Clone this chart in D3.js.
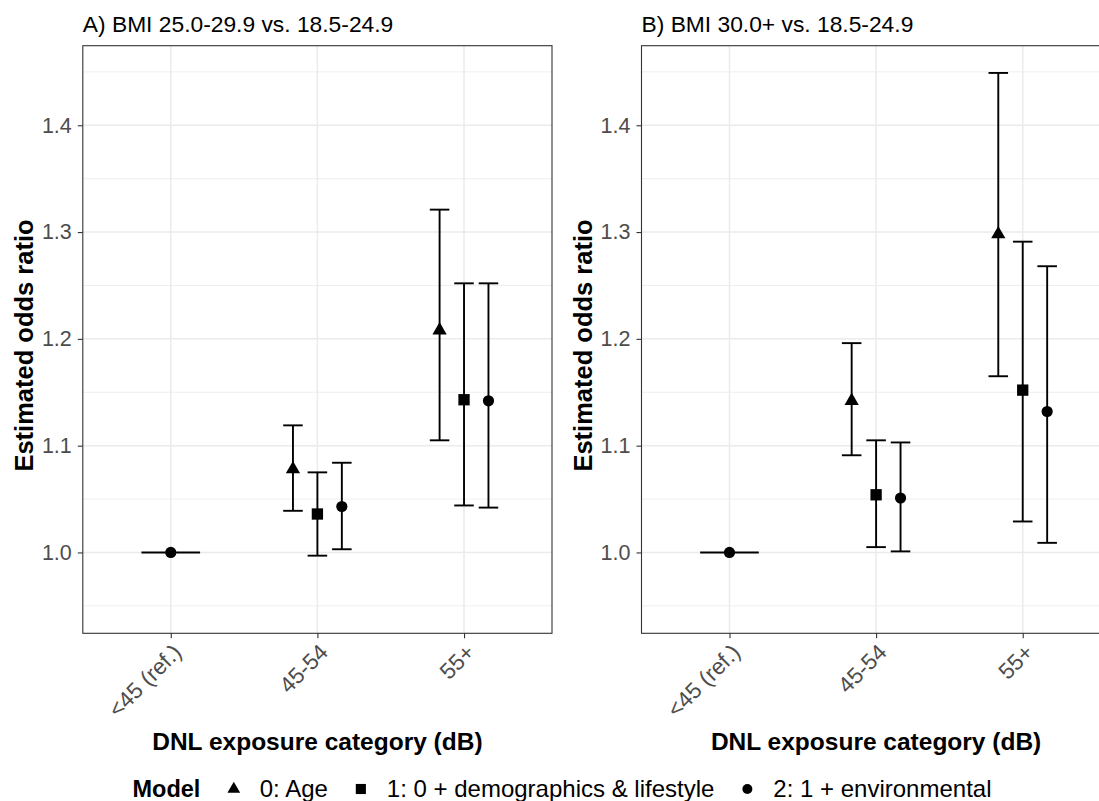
<!DOCTYPE html>
<html>
<head>
<meta charset="utf-8">
<script src="https://cdnjs.cloudflare.com/ajax/libs/d3/7.8.5/d3.min.js"></script>
<style>
  body { margin: 0; background: #fff; }
  svg { display: block; font-family: "Liberation Sans", Arial, sans-serif; }
</style>
</head>
<body>
<div id="container"></div>
<script>
// categories and models
var categories = ["<45 (ref.)", "45-54", "55+"];
var models = ["0: Age", "1: 0 + demographics & lifestyle", "2: 1 + environmental"];
var shapes = ["triangle", "square", "circle"];
var yTicks = [1.0, 1.1, 1.2, 1.3, 1.4];
var yMinor = [0.95, 1.05, 1.15, 1.25, 1.35, 1.45];

// reference category: single estimate
var refOR = 1.0;

// panel A, values for "45-54" and "55+", one array per model
var orA = [[1.078, 1.208], [1.036, 1.143], [1.043, 1.142]];
var lowA = [[1.039, 1.105], [0.997, 1.044], [1.003, 1.042]];
var highA = [[1.119, 1.321], [1.075, 1.252], [1.084, 1.252]];

// panel B
var orB = [[1.142, 1.298], [1.054, 1.152], [1.051, 1.132]];
var lowB = [[1.091, 1.165], [1.005, 1.029], [1.001, 1.009]];
var highB = [[1.196, 1.449], [1.105, 1.291], [1.103, 1.268]];

var panels = [
  {title: "A) BMI 25.0-29.9 vs. 18.5-24.9", left: 82.8, or: orA, low: lowA, high: highA},
  {title: "B) BMI 30.0+ vs. 18.5-24.9", left: 641.5, or: orB, low: lowB, high: highB}
];

var W = 1099, H = 801;
var panelW = 469.2, plotTop = 45.7, plotBottom = 633.3;

var svg = d3.select("#container").append("svg")
    .attr("width", W)
    .attr("height", H);

var y = d3.scaleLinear()
    .domain([0.9243, 1.4745])
    .range([plotBottom, plotTop]);

// marker path, k scales the area
function symbolPath(shape, k) {
  if (shape == "triangle") return d3.symbol(d3.symbolTriangle, 88 * k)();
  if (shape == "square") return d3.symbol(d3.symbolSquare, 128 * k)();
  return d3.symbol(d3.symbolCircle, 98 * k)();
}

panels.forEach(function(p) {
  var x = d3.scalePoint()
      .domain(categories)
      .range([p.left, p.left + panelW])
      .padding(0.6);
  var step = x.step();

  var g = svg.append("g");

  // grid
  g.selectAll(".minor").data(yMinor).join("line")
      .attr("x1", p.left).attr("x2", p.left + panelW)
      .attr("y1", d => y(d)).attr("y2", d => y(d))
      .attr("stroke", "#EBEBEB").attr("stroke-width", 0.8);
  g.selectAll(".major").data(yTicks).join("line")
      .attr("x1", p.left).attr("x2", p.left + panelW)
      .attr("y1", d => y(d)).attr("y2", d => y(d))
      .attr("stroke", "#EBEBEB").attr("stroke-width", 1.5);
  g.selectAll(".vgrid").data(categories).join("line")
      .attr("x1", d => x(d)).attr("x2", d => x(d))
      .attr("y1", plotTop).attr("y2", plotBottom)
      .attr("stroke", "#EBEBEB").attr("stroke-width", 1.5);

  // build rows from arrays
  var rows = [];
  models.forEach(function(m, mi) {
    [1, 2].forEach(function(ci, k) {
      rows.push({
        cat: categories[ci],
        model: mi,
        or: p.or[mi][k],
        low: p.low[mi][k],
        high: p.high[mi][k]
      });
    });
  });
  var dodge = step / 6;
  var capHalf = step / 15;
  var cx = d => x(d.cat) + (d.model - 1) * dodge;

  var eb = g.append("g").attr("stroke", "#000").attr("stroke-width", 1.9).attr("fill", "none");
  eb.selectAll(".v").data(rows).join("line")
      .attr("x1", cx).attr("x2", cx)
      .attr("y1", d => y(d.low)).attr("y2", d => y(d.high));
  eb.selectAll(".lo").data(rows).join("line")
      .attr("x1", d => cx(d) - capHalf).attr("x2", d => cx(d) + capHalf)
      .attr("y1", d => y(d.low)).attr("y2", d => y(d.low));
  eb.selectAll(".hi").data(rows).join("line")
      .attr("x1", d => cx(d) - capHalf).attr("x2", d => cx(d) + capHalf)
      .attr("y1", d => y(d.high)).attr("y2", d => y(d.high));

  // reference category
  eb.append("line")
      .attr("x1", x(categories[0]) - step * 0.2).attr("x2", x(categories[0]) + step * 0.2)
      .attr("y1", y(refOR)).attr("y2", y(refOR));
  g.append("path")
      .attr("d", symbolPath("circle", 1))
      .attr("transform", "translate(" + x(categories[0]) + "," + y(refOR) + ")")
      .attr("fill", "#000");

  g.selectAll(".pt").data(rows).join("path")
      .attr("d", d => symbolPath(shapes[d.model], 1))
      .attr("transform", d => "translate(" + cx(d) + "," + y(d.or) + ")")
      .attr("fill", "#000");

  // border
  g.append("rect")
      .attr("x", p.left).attr("y", plotTop)
      .attr("width", panelW).attr("height", plotBottom - plotTop)
      .attr("fill", "none").attr("stroke", "#333333").attr("stroke-width", 1.1);

  // y axis
  var ya = g.append("g")
      .attr("transform", "translate(" + p.left + ",0)")
      .call(d3.axisLeft(y).tickValues(yTicks).tickFormat(d3.format(".1f")).tickSizeOuter(0).tickSize(5).tickPadding(6));
  ya.select(".domain").remove();
  ya.selectAll("line").attr("stroke", "#333333").attr("stroke-width", 1.1);
  ya.selectAll("text").attr("fill", "#4D4D4D").style("font-size", "21.5px")
      .style("font-family", "Liberation Sans, Arial, sans-serif");

  // x axis
  var xa = g.append("g")
      .attr("transform", "translate(0," + plotBottom + ")")
      .call(d3.axisBottom(x).tickSizeOuter(0).tickSize(5));
  xa.select(".domain").remove();
  xa.selectAll("line").attr("stroke", "#333333").attr("stroke-width", 1.1);
  xa.selectAll("text")
      .attr("fill", "#4D4D4D").style("font-size", "22.5px")
      .style("font-family", "Liberation Sans, Arial, sans-serif")
      .attr("y", 0).attr("dy", "0.72em")
      .attr("transform", "translate(0,9)rotate(-45)")
      .style("text-anchor", "end");

  // titles
  g.append("text")
      .attr("x", p.left).attr("y", 31.5)
      .style("font-size", "22.8px").attr("fill", "#000")
      .text(p.title);
  g.append("text")
      .attr("x", p.left + panelW / 2).attr("y", 750)
      .attr("text-anchor", "middle")
      .style("font-size", "24.5px").style("font-weight", "bold")
      .text("DNL exposure category (dB)");
  g.append("text")
      .attr("transform", "translate(" + (p.left - 50) + "," + ((plotTop + plotBottom) / 2 + 6) + ")rotate(-90)")
      .attr("text-anchor", "middle")
      .style("font-size", "25.5px").style("font-weight", "bold")
      .text("Estimated odds ratio");
});

// legend
var leg = svg.append("g").attr("transform", "translate(0,797)");
var lt = leg.append("text").style("font-size", "23.5px").style("font-weight", "bold").text("Model");
var pos = lt.node().getComputedTextLength();
var items = [];
models.forEach(function(m, i) {
  var keyX = pos + (i == 0 ? 33.4 : 33);
  var t = leg.append("text").attr("x", keyX + 26).style("font-size", "24px").text(m);
  items.push({key: keyX, shape: shapes[i]});
  pos = keyX + 26 + t.node().getComputedTextLength();
});
leg.selectAll(".key").data(items).join("path")
    .attr("d", d => symbolPath(d.shape, 0.8))
    .attr("transform", d => "translate(" + d.key + ",-8)")
    .attr("fill", "#000");
leg.attr("transform", "translate(" + (562 - pos / 2) + ",797)");
</script>
</body>
</html>
